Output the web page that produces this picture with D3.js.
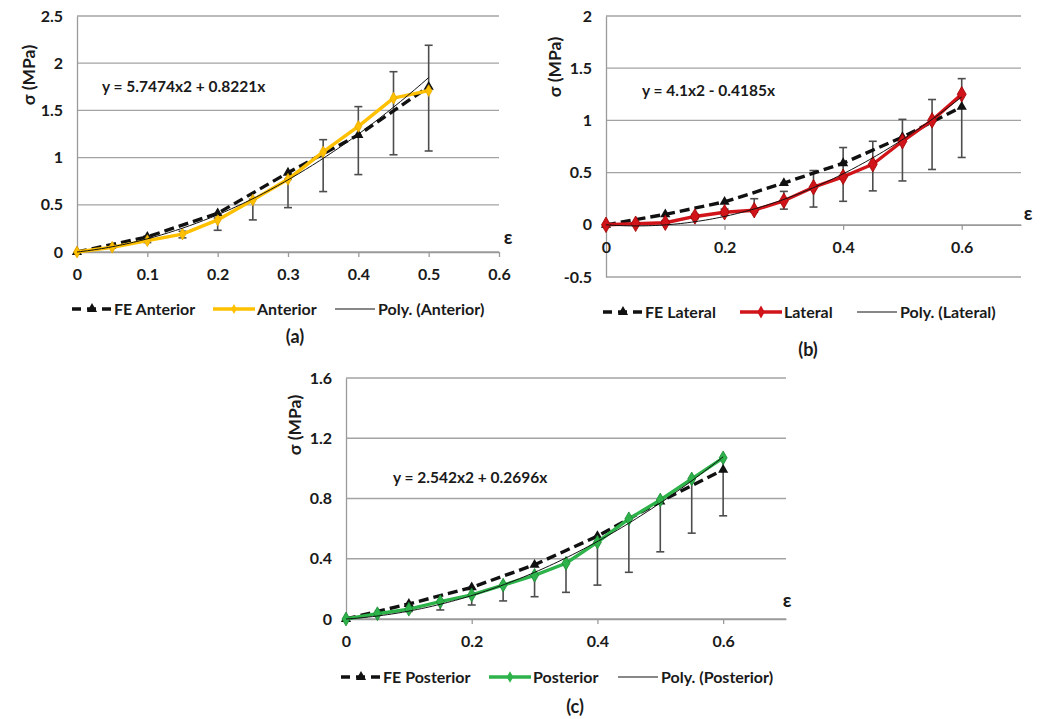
<!DOCTYPE html>
<html><head><meta charset="utf-8">
<script src="https://cdn.jsdelivr.net/npm/d3@7"></script>
<style>
body{margin:0;background:#fff}
text{font-family:Lato,"Liberation Sans",sans-serif;font-weight:700;fill:#1a1a1a}
</style>
</head><body>
<svg id="chart" width="1044" height="719"></svg>
<script>
// ---------- Panel (a) Anterior ----------
const strainA = [0, 0.05, 0.1, 0.15, 0.2, 0.25, 0.3, 0.35, 0.4, 0.45, 0.5];
const anterior = [0, 0.05, 0.12, 0.19, 0.34, 0.55, 0.77, 1.06, 1.33, 1.63, 1.71];
const anteriorErrLow = [0, 0.04, 0.10, 0.15, 0.23, 0.34, 0.47, 0.64, 0.82, 1.03, 1.07];
const anteriorErrHigh = [0, 0.07, 0.17, 0.22, 0.36, 0.56, 0.77, 1.19, 1.54, 1.91, 2.19];
const feStrainA = [0, 0.1, 0.2, 0.3, 0.4, 0.5];
const feAnterior = [0, 0.16, 0.41, 0.84, 1.24, 1.75];
const polyAnterior = [5.7474, 0.8221];
const xTicksA = [0, 0.1, 0.2, 0.3, 0.4, 0.5, 0.6];
const xLabelsA = ["0", "0.1", "0.2", "0.3", "0.4", "0.5", "0.6"];
const yTicksA = [0, 0.5, 1, 1.5, 2, 2.5];
const yLabelsA = ["0", "0.5", "1", "1.5", "2", "2.5"];

// ---------- Panel (b) Lateral ----------
const strainB = [0, 0.05, 0.1, 0.15, 0.2, 0.25, 0.3, 0.35, 0.4, 0.45, 0.5, 0.55, 0.6];
const lateral = [0, 0.01, 0.02, 0.08, 0.12, 0.14, 0.23, 0.36, 0.46, 0.58, 0.80, 1.00, 1.25];
const lateralErrLow = [0, 0, 0.01, 0.06, 0.09, 0.12, 0.15, 0.17, 0.225, 0.325, 0.42, 0.53, 0.645];
const lateralErrHigh = [0, 0.02, 0.04, 0.10, 0.15, 0.25, 0.32, 0.52, 0.74, 0.80, 1.01, 1.20, 1.40];
const feStrainB = [0, 0.1, 0.2, 0.3, 0.4, 0.5, 0.6];
const feLateral = [0, 0.10, 0.22, 0.40, 0.59, 0.84, 1.13];
const polyLateral = [4.1, -0.4185];
const xTicksB = [0, 0.2, 0.4, 0.6];
const xLabelsB = ["0", "0.2", "0.4", "0.6"];
const yTicksB = [-0.5, 0, 0.5, 1, 1.5, 2];
const yLabelsB = ["-0.5", "0", "0.5", "1", "1.5", "2"];

// ---------- Panel (c) Posterior ----------
const strainC = [0, 0.05, 0.1, 0.15, 0.2, 0.25, 0.3, 0.35, 0.4, 0.45, 0.5, 0.55, 0.6];
const posterior = [0, 0.035, 0.065, 0.115, 0.16, 0.225, 0.29, 0.37, 0.51, 0.665, 0.79, 0.93, 1.07];
const posteriorErrLow = [0, 0.03, 0.05, 0.06, 0.093, 0.12, 0.148, 0.177, 0.225, 0.31, 0.446, 0.57, 0.685];
const feStrainC = [0, 0.1, 0.2, 0.3, 0.4, 0.5, 0.6];
const fePosterior = [0, 0.10, 0.21, 0.36, 0.55, 0.78, 0.99];
const polyPosterior = [2.542, 0.2696];
const xTicksC = [0, 0.2, 0.4, 0.6];
const xLabelsC = ["0", "0.2", "0.4", "0.6"];
const yTicksC = [0, 0.4, 0.8, 1.2, 1.6];
const yLabelsC = ["0", "0.4", "0.8", "1.2", "1.6"];

const svg = d3.select("#chart");
const TICK_FS = 16, LEG_FS = 16;

function drawPanel(c) {
  const x = d3.scaleLinear().domain(c.xDomain).range([c.left, c.right]);
  const y = d3.scaleLinear().domain(c.yDomain).range([c.bottom, c.top]);
  const g = svg.append("g");

  // gridlines
  g.append("g").selectAll("line").data(c.yTicks).join("line")
    .attr("x1", c.left).attr("x2", c.right)
    .attr("y1", d => y(d)).attr("y2", d => y(d))
    .attr("stroke", "#a3a3a3").attr("stroke-width", 1.3);

  // y axis
  const ya = g.append("g").attr("transform", `translate(${c.left},0)`)
    .call(d3.axisLeft(y).tickValues(c.yTicks).tickFormat((d, i) => c.yLabels[i])
      .tickSize(0).tickPadding(14));
  ya.select(".domain").attr("stroke", "#9a9a9a").attr("stroke-width", 1.3);
  ya.selectAll("text").attr("font-size", TICK_FS).attr("font-family", null).attr("fill", "#1a1a1a");

  // x axis at y = 0
  const xa = g.append("g").attr("transform", `translate(0,${y(0)})`)
    .call(d3.axisBottom(x).tickValues(c.xTicks).tickFormat((d, i) => c.xLabels[i])
      .tickSize(5).tickSizeOuter(0).tickPadding(12));
  xa.select(".domain").attr("stroke", "#9a9a9a").attr("stroke-width", 1.3);
  xa.selectAll(".tick line").attr("stroke", "#9a9a9a").attr("stroke-width", 1.3);
  xa.selectAll("text").attr("font-size", TICK_FS).attr("font-family", null).attr("fill", "#1a1a1a");

  // error bars
  const capW = 4;
  const eb = g.append("g").attr("stroke", "#4d4d4d").attr("stroke-width", 1.6);
  c.strain.forEach((s, i) => {
    const lo = c.errLow[i];
    const hi = c.errHigh ? c.errHigh[i] : c.values[i];
    if (hi - lo < 0.005) return;
    eb.append("line").attr("x1", x(s)).attr("x2", x(s)).attr("y1", y(lo)).attr("y2", y(hi));
    eb.append("line").attr("x1", x(s) - capW).attr("x2", x(s) + capW).attr("y1", y(lo)).attr("y2", y(lo));
    if (c.errHigh) eb.append("line").attr("x1", x(s) - capW).attr("x2", x(s) + capW).attr("y1", y(hi)).attr("y2", y(hi));
  });

  const line = d3.line().x(d => x(d[0])).y(d => y(d[1]));

  // FE dashed
  const fe = c.feStrain.map((s, i) => [s, c.fe[i]]);
  g.append("path").datum(fe).attr("d", line).attr("fill", "none")
    .attr("stroke", "#111").attr("stroke-width", 3.4).attr("stroke-dasharray", "10,5");
  g.append("g").selectAll("path").data(fe).join("path")
    .attr("transform", d => `translate(${x(d[0])},${y(d[1])})`)
    .attr("d", d3.symbol(d3.symbolTriangle, 45)).attr("fill", "#111");

  // experimental
  const ex = c.strain.map((s, i) => [s, c.values[i]]);
  g.append("path").datum(ex).attr("d", line).attr("fill", "none")
    .attr("stroke", c.color).attr("stroke-width", 3.4).attr("stroke-linejoin", "round");
  g.append("g").selectAll("path").data(ex).join("path")
    .attr("transform", d => `translate(${x(d[0])},${y(d[1])})`)
    .attr("d", d3.symbol(d3.symbolDiamond, c.markerSize)).attr("fill", c.color)
    .attr("stroke", c.markerStroke).attr("stroke-width", 0.8);

  // polynomial trendline (from the displayed equation coefficients)
  const xmax = c.strain[c.strain.length - 1];
  const pts = d3.range(0, 101).map(k => {
    const s = xmax * k / 100;
    return [s, c.poly[0] * s * s + c.poly[1] * s];
  });
  g.append("path").datum(pts).attr("d", line).attr("fill", "none")
    .attr("stroke", "#111").attr("stroke-width", 1);

  // equation
  g.append("text").attr("x", c.eqPos[0]).attr("y", c.eqPos[1]).attr("dy", "0.35em")
    .attr("font-size", 15.5).text(c.equation);

  // axis titles
  g.append("text").attr("transform", `translate(${c.yTitlePos[0]},${c.yTitlePos[1]}) rotate(-90)`)
    .attr("text-anchor", "middle").attr("dy", "0.35em").attr("font-size", 17.5).text("σ (MPa)");
  g.append("text").attr("x", c.epsPos[0]).attr("y", c.epsPos[1]).attr("dy", "0.35em")
    .attr("text-anchor", "middle").attr("font-size", 19).text("ε");

  // legend
  const ly = c.legendY, L = c.legendX;
  const lg = g.append("g");
  lg.append("line").attr("x1", L[0]).attr("x2", L[0] + 40).attr("y1", ly).attr("y2", ly)
    .attr("stroke", "#111").attr("stroke-width", 3.4).attr("stroke-dasharray", "9,6");
  lg.append("path").attr("transform", `translate(${L[0] + 20},${ly})`)
    .attr("d", d3.symbol(d3.symbolTriangle, 45)).attr("fill", "#111");
  lg.append("text").attr("x", L[0] + 42).attr("y", ly).attr("dy", "0.35em").attr("font-size", LEG_FS).text(c.names[0]);
  lg.append("line").attr("x1", L[1]).attr("x2", L[1] + 42).attr("y1", ly).attr("y2", ly)
    .attr("stroke", c.color).attr("stroke-width", 3.4);
  lg.append("path").attr("transform", `translate(${L[1] + 21},${ly})`)
    .attr("d", d3.symbol(d3.symbolDiamond, c.markerSize * 0.7)).attr("fill", c.color);
  lg.append("text").attr("x", L[1] + 44).attr("y", ly).attr("dy", "0.35em").attr("font-size", LEG_FS).text(c.names[1]);
  lg.append("line").attr("x1", L[2]).attr("x2", L[2] + 40).attr("y1", ly).attr("y2", ly)
    .attr("stroke", "#111").attr("stroke-width", 1);
  lg.append("text").attr("x", L[2] + 43).attr("y", ly).attr("dy", "0.35em").attr("font-size", LEG_FS).text(c.names[2]);

  // caption
  g.append("text").attr("x", c.capPos[0]).attr("y", c.capPos[1]).attr("dy", "0.35em")
    .attr("text-anchor", "middle").attr("font-size", 18).text(c.caption);
}

drawPanel({
  left: 77, right: 499, top: 16, bottom: 252,
  xDomain: [0, 0.6], yDomain: [0, 2.5],
  xTicks: xTicksA, xLabels: xLabelsA, yTicks: yTicksA, yLabels: yLabelsA,
  strain: strainA, values: anterior, errLow: anteriorErrLow, errHigh: anteriorErrHigh,
  feStrain: feStrainA, fe: feAnterior, poly: polyAnterior,
  color: "#FFC000", markerStroke: "#e6a800", markerSize: 40,
  equation: "y = 5.7474x2  + 0.8221x", eqPos: [102, 87],
  yTitlePos: [29, 75], epsPos: [508, 237],
  legendY: 309, legendX: [72, 213, 335],
  names: ["FE Anterior", "Anterior", "Poly. (Anterior)"],
  caption: "(a)", capPos: [295, 337]
});

drawPanel({
  left: 606, right: 1021, top: 16, bottom: 277,
  xDomain: [0, 0.7], yDomain: [-0.5, 2],
  xTicks: xTicksB, xLabels: xLabelsB, yTicks: yTicksB, yLabels: yLabelsB,
  strain: strainB, values: lateral, errLow: lateralErrLow, errHigh: lateralErrHigh,
  feStrain: feStrainB, fe: feLateral, poly: polyLateral,
  color: "#D01419", markerStroke: "#a00000", markerSize: 70,
  equation: "y = 4.1x2  - 0.4185x", eqPos: [642, 91],
  yTitlePos: [555, 67], epsPos: [1028, 213],
  legendY: 312, legendX: [603, 740, 857],
  names: ["FE Lateral", "Lateral", "Poly. (Lateral)"],
  caption: "(b)", capPos: [808, 350]
});

drawPanel({
  left: 346, right: 786, top: 378, bottom: 619,
  xDomain: [0, 0.7], yDomain: [0, 1.6],
  xTicks: xTicksC, xLabels: xLabelsC, yTicks: yTicksC, yLabels: yLabelsC,
  strain: strainC, values: posterior, errLow: posteriorErrLow, errHigh: null,
  feStrain: feStrainC, fe: fePosterior, poly: polyPosterior,
  color: "#2DB34A", markerStroke: "#1a8a33", markerSize: 55,
  equation: "y = 2.542x2  + 0.2696x", eqPos: [393, 478],
  yTitlePos: [295, 425], epsPos: [787, 600],
  legendY: 677, legendX: [341, 489, 618],
  names: ["FE Posterior", "Posterior", "Poly. (Posterior)"],
  caption: "(c)", capPos: [575, 707]
});
</script>
</body></html>
